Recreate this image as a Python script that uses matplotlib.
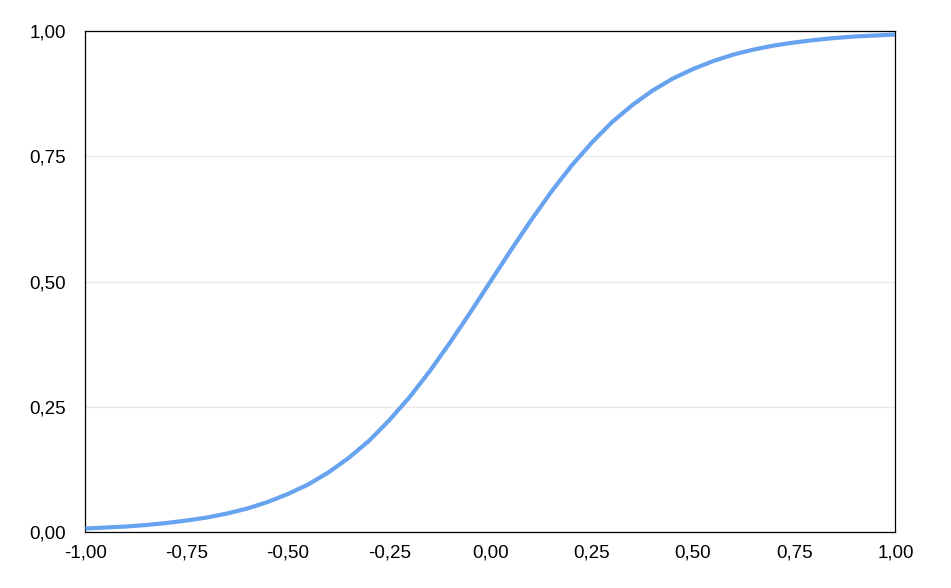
import matplotlib
matplotlib.use("Agg")
import matplotlib.pyplot as plt
from matplotlib.ticker import FuncFormatter

# values
xs = [-1.00, -0.95, -0.90, -0.85, -0.80, -0.75, -0.70, -0.65, -0.60, -0.55,
      -0.50, -0.45, -0.40, -0.35, -0.30, -0.25, -0.20, -0.15, -0.10, -0.05,
      0.00, 0.05, 0.10, 0.15, 0.20, 0.25, 0.30, 0.35, 0.40, 0.45,
      0.50, 0.55, 0.60, 0.65, 0.70, 0.75, 0.80, 0.85, 0.90, 0.95, 1.00]
ys = [0.007, 0.009, 0.011, 0.014, 0.018, 0.023, 0.029, 0.037, 0.047, 0.060,
      0.076, 0.095, 0.119, 0.148, 0.182, 0.223, 0.269, 0.321, 0.378, 0.438,
      0.500, 0.562, 0.622, 0.679, 0.731, 0.777, 0.818, 0.852, 0.881, 0.905,
      0.924, 0.940, 0.953, 0.963, 0.971, 0.977, 0.982, 0.986, 0.989, 0.991, 0.993]
xticks = [-1.0, -0.75, -0.5, -0.25, 0.0, 0.25, 0.5, 0.75, 1.0]
yticks = [0.0, 0.25, 0.5, 0.75, 1.0]

plt.rcParams['font.family'] = ['Liberation Sans', 'DejaVu Sans']

fig = plt.figure(figsize=(9.51, 5.88), dpi=100)
ax = fig.add_axes([0.0899, 0.0952, 0.8517, 0.8521])

ax.plot(xs, ys, color='#67a3ee', lw=3, solid_capstyle='butt',
        solid_joinstyle='round', zorder=3)

ax.set_xlim(-1, 1)
ax.set_ylim(0, 1)
ax.set_xticks(xticks)
ax.set_yticks(yticks)
fmt = FuncFormatter(lambda v, p: f"{v:.2f}".replace('.', ','))
ax.xaxis.set_major_formatter(fmt)
ax.yaxis.set_major_formatter(fmt)
ax.tick_params(axis='both', length=0, labelsize=13.5, colors='black')
ax.tick_params(axis='y', pad=14)
ax.tick_params(axis='x', pad=9)

ax.grid(axis='y', color='#e8e8e8', lw=1)
ax.set_axisbelow(True)
for s in ax.spines.values():
    s.set_linewidth(0.9)
    s.set_color('black')

fig.savefig('out.png', dpi=100)
